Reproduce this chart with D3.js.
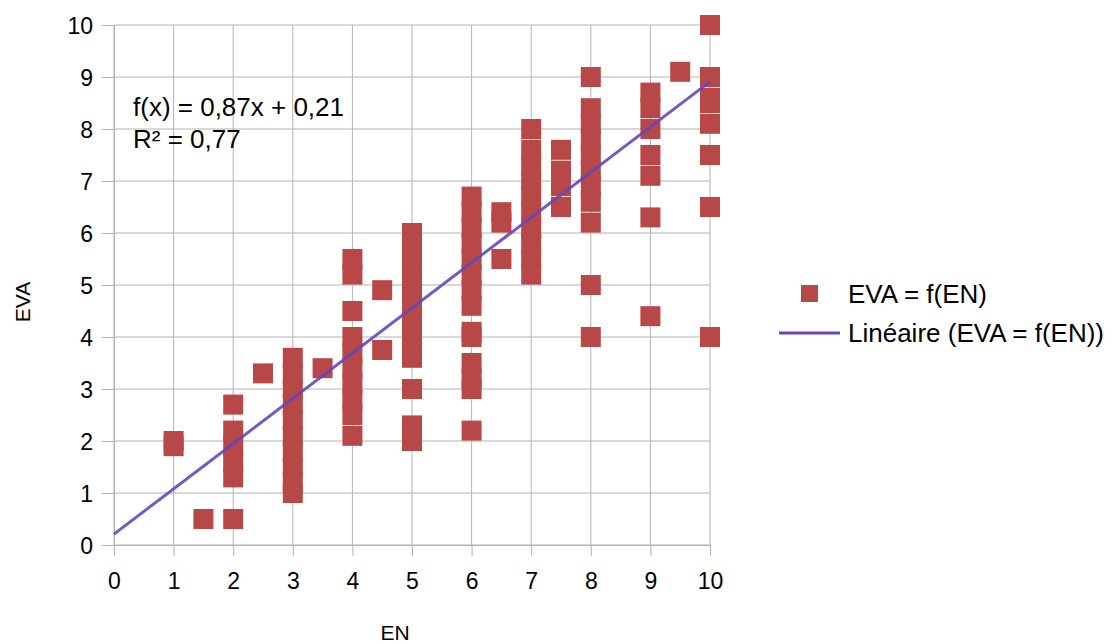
<!DOCTYPE html>
<html>
<head>
<meta charset="utf-8">
<script src="https://cdn.jsdelivr.net/npm/d3@7"></script>
<style>
  body { margin: 0; background: #fff; }
  text { font-family: "Liberation Sans", Arial, sans-serif; fill: #000; }
</style>
</head>
<body>
<div id="chart"></div>
<script>
// data: EN level and the EVA values observed at that level
const enLevels = [1, 1.5, 2, 2.5, 3, 3.5, 4, 4.5, 5, 6, 6.5, 7, 7.5, 8, 9, 9.5, 10];
const evaByLevel = [
    [1.9, 2.0],
    [0.5],
    [2.7, 2.2, 1.9, 1.6, 1.3, 0.5],
    [3.3],
    [3.6, 3.3, 3.0, 2.7, 2.4, 2.1, 1.8, 1.5, 1.2, 1.0],
    [3.4],
    [5.5, 5.2, 4.5, 4.0, 3.7, 3.4, 3.1, 2.8, 2.5, 2.1],
    [4.9, 3.75],
    [6.0, 5.7, 5.4, 5.1, 4.8, 4.5, 4.2, 3.9, 3.6, 3.0, 2.3, 2.0],
    [6.7, 6.4, 6.1, 5.8, 5.5, 5.2, 4.9, 4.6, 4.1, 4.0, 3.5, 3.2, 3.0, 2.2],
    [6.4, 6.2, 5.5],
    [8.0, 7.6, 7.3, 7.0, 6.7, 6.4, 6.1, 5.8, 5.5, 5.2],
    [7.6, 7.2, 6.9, 6.5],
    [9.0, 8.4, 8.1, 7.8, 7.5, 7.2, 6.9, 6.6, 6.2, 5.0, 4.0],
    [8.7, 8.4, 8.0, 7.5, 7.1, 6.3, 4.4],
    [9.1],
    [10, 9.0, 8.6, 8.5, 8.1, 7.5, 6.5, 4.0]
];
const xTicks = [0, 1, 2, 3, 4, 5, 6, 7, 8, 9, 10];
const yTicks = [0, 1, 2, 3, 4, 5, 6, 7, 8, 9, 10];
const trendSlope = 0.87;
const trendIntercept = 0.21;
const trendLabels = ['f(x) = 0,87x + 0,21', 'R² = 0,77'];
const legendLabels = ['EVA = f(EN)', 'Linéaire (EVA = f(EN))'];

// layout
const width = 1112, height = 644;
const margins = { top: 25, left: 114, right: 402, bottom: 99 };
const innerW = width - margins.left - margins.right;
const innerH = height - margins.top - margins.bottom;

const pointColor = '#b84747';
const lineColor = '#6646bd';
const gridColor = '#b3b3b3';
const fontFamily = '"Liberation Sans", Arial, sans-serif';

const points = [];
enLevels.forEach((en, i) => evaByLevel[i].forEach(eva => points.push({ en: en, eva: eva })));

const svg = d3.select('#chart').append('svg')
    .attr('width', width)
    .attr('height', height);

svg.append('rect').attr('width', width).attr('height', height).attr('fill', '#fff');

const group = svg.append('g').attr('transform', `translate(${margins.left},${margins.top})`);

// scales
const xScale = d3.scaleLinear().domain([0, 10]).range([0, innerW]);
const yScale = d3.scaleLinear().domain([0, 10]).range([innerH, 0]);

// grid
group.append('g')
    .selectAll('line')
    .data(xTicks)
    .join('line')
    .attr('x1', d => xScale(d)).attr('x2', d => xScale(d))
    .attr('y1', 0).attr('y2', innerH)
    .attr('stroke', gridColor).attr('stroke-width', 1);

group.append('g')
    .selectAll('line')
    .data(yTicks)
    .join('line')
    .attr('x1', 0).attr('x2', innerW)
    .attr('y1', d => yScale(d)).attr('y2', d => yScale(d))
    .attr('stroke', gridColor).attr('stroke-width', 1);

// axes
const xAxisGroup = group.append('g')
    .attr('transform', `translate(0,${innerH})`)
    .call(d3.axisBottom(xScale).tickValues(xTicks).tickSize(11).tickPadding(17).tickFormat(d3.format('d')));

const yAxisGroup = group.append('g')
    .call(d3.axisLeft(yScale).tickValues(yTicks).tickSize(12).tickPadding(9).tickFormat(d3.format('d')));

[xAxisGroup, yAxisGroup].forEach(g => {
    g.select('.domain').attr('stroke', gridColor);
    g.selectAll('.tick line').attr('stroke', gridColor);
    g.selectAll('.tick text').attr('font-size', 23).attr('font-family', fontFamily).attr('fill', '#000');
});
yAxisGroup.selectAll('.tick text').attr('dy', '0.36em');

// points
const size = 20;
group.append('g')
    .selectAll('rect')
    .data(points)
    .join('rect')
    .attr('x', d => xScale(d.en) - size / 2)
    .attr('y', d => yScale(d.eva) - size / 2)
    .attr('width', size)
    .attr('height', size)
    .attr('fill', pointColor);

// trend line
const line = d3.line()
    .x(d => xScale(d))
    .y(d => yScale(trendSlope * d + trendIntercept));

group.append('path')
    .datum([0, 10])
    .attr('d', line)
    .attr('fill', 'none')
    .attr('stroke', lineColor)
    .attr('stroke-width', 3)
    .attr('opacity', 0.9);

// equation
group.selectAll('.eq')
    .data(trendLabels)
    .join('text')
    .attr('class', 'eq')
    .attr('x', 19)
    .attr('y', (d, i) => 91 + i * 32)
    .attr('font-size', 26)
    .text(d => d);

// axis titles
svg.append('text')
    .attr('x', margins.left + innerW / 2 - 17)
    .attr('y', 640)
    .attr('text-anchor', 'middle')
    .attr('font-size', 21)
    .text('EN');

svg.append('text')
    .attr('transform', 'translate(30,302) rotate(-90)')
    .attr('text-anchor', 'middle')
    .attr('font-size', 21)
    .text('EVA');

// legend
const legend = svg.append('g').attr('transform', 'translate(779,0)');
legend.append('rect')
    .attr('x', 22).attr('y', 285)
    .attr('width', 17).attr('height', 17)
    .attr('fill', pointColor);
legend.append('line')
    .attr('x1', 0).attr('x2', 61)
    .attr('y1', 333).attr('y2', 333)
    .attr('stroke', lineColor).attr('stroke-width', 3);
legend.selectAll('.lg')
    .data(legendLabels)
    .join('text')
    .attr('class', 'lg')
    .attr('x', 69)
    .attr('y', (d, i) => 303 + i * 39)
    .attr('font-size', 26)
    .text(d => d);
</script>
</body>
</html>
